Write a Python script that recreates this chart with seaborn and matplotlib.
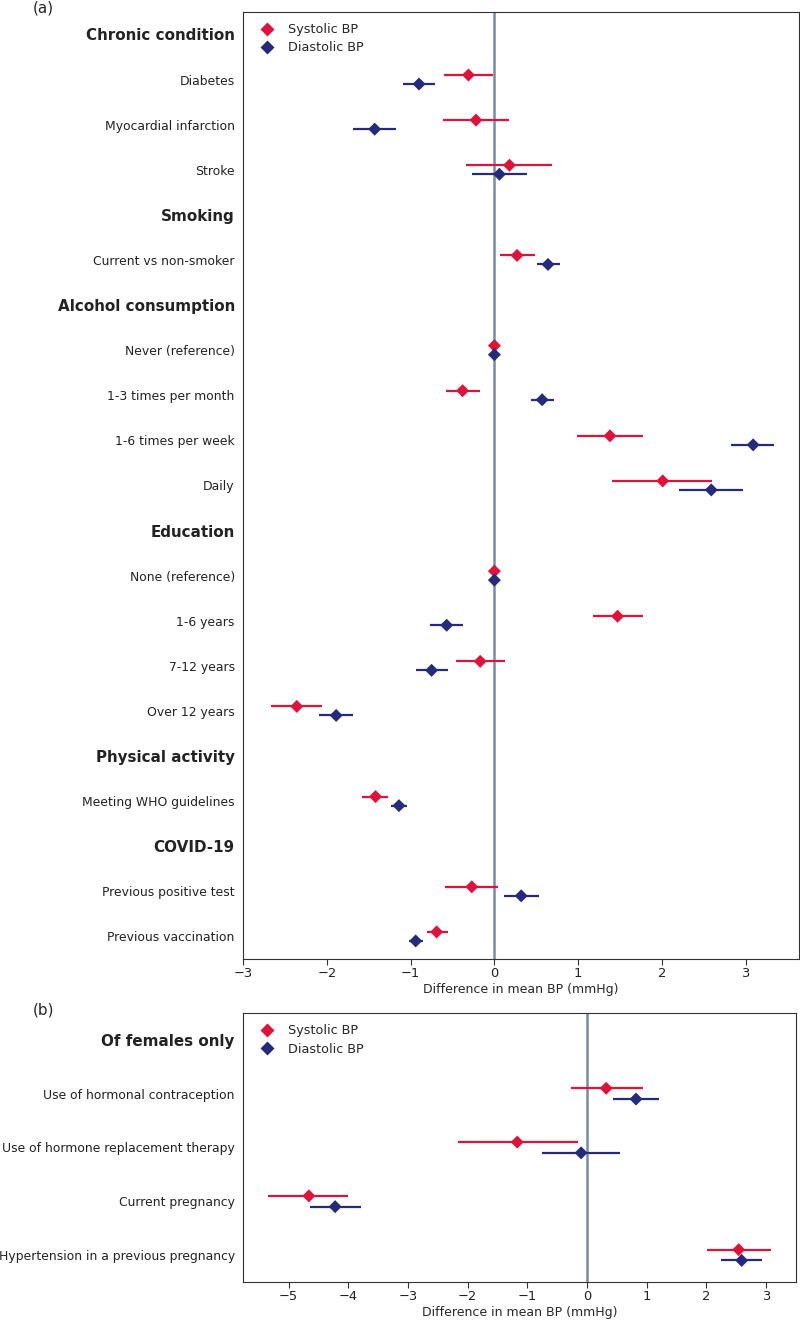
import numpy as np
import pandas as pd
import matplotlib
matplotlib.use("Agg")
import matplotlib.pyplot as plt
import seaborn as sns

# -----------------------------
# Panel (a) data
# -----------------------------
labels_a = ["Chronic condition", "Diabetes", "Myocardial infarction", "Stroke",
            "Smoking", "Current vs non-smoker",
            "Alcohol consumption", "Never (reference)", "1-3 times per month",
            "1-6 times per week", "Daily",
            "Education", "None (reference)", "1-6 years", "7-12 years", "Over 12 years",
            "Physical activity", "Meeting WHO guidelines",
            "COVID-19", "Previous positive test", "Previous vaccination"]
headers_a = ["Chronic condition", "Smoking", "Alcohol consumption", "Education",
             "Physical activity", "COVID-19"]
nan = np.nan
sys_a = [nan, -0.31, -0.22, 0.18, nan, 0.27, nan, 0.0, -0.38, 1.38, 2.01,
         nan, 0.0, 1.47, -0.17, -2.36, nan, -1.42, nan, -0.27, -0.69]
sys_lo_a = [nan, -0.60, -0.61, -0.34, nan, 0.07, nan, 0.0, -0.58, 0.99, 1.41,
            nan, 0.0, 1.18, -0.46, -2.67, nan, -1.58, nan, -0.59, -0.81]
sys_hi_a = [nan, -0.02, 0.18, 0.69, nan, 0.48, nan, 0.0, -0.17, 1.77, 2.60,
            nan, 0.0, 1.78, 0.13, -2.06, nan, -1.27, nan, 0.04, -0.56]
dia_a = [nan, -0.90, -1.43, 0.06, nan, 0.64, nan, 0.0, 0.57, 3.09, 2.59,
         nan, 0.0, -0.57, -0.75, -1.89, nan, -1.14, nan, 0.32, -0.94]
dia_lo_a = [nan, -1.09, -1.69, -0.27, nan, 0.51, nan, 0.0, 0.44, 2.83, 2.20,
            nan, 0.0, -0.77, -0.94, -2.09, nan, -1.24, nan, 0.11, -1.02]
dia_hi_a = [nan, -0.71, -1.17, 0.39, nan, 0.78, nan, 0.0, 0.71, 3.34, 2.97,
            nan, 0.0, -0.38, -0.56, -1.69, nan, -1.04, nan, 0.53, -0.85]

# -----------------------------
# Panel (b) data
# -----------------------------
labels_b = ["Of females only", "Use of hormonal contraception",
            "Use of hormone replacement therapy", "Current pregnancy",
            "Hypertension in a previous pregnancy"]
headers_b = ["Of females only"]
sys_b = [nan, 0.32, -1.17, -4.66, 2.54]
sys_lo_b = [nan, -0.27, -2.17, -5.34, 2.01]
sys_hi_b = [nan, 0.93, -0.15, -4.01, 3.08]
dia_b = [nan, 0.82, -0.10, -4.22, 2.59]
dia_lo_b = [nan, 0.44, -0.75, -4.64, 2.24]
dia_hi_b = [nan, 1.20, 0.56, -3.78, 2.93]

measures = ["Systolic BP", "Diastolic BP"]
colors = {"Systolic BP": "#dc143c", "Diastolic BP": "#262a7a"}

sns.set_style("white")
plt.rcParams['font.family'] = ['DejaVu Sans']
plt.rcParams['axes.edgecolor'] = '#333333'
plt.rcParams['xtick.color'] = '#333333'
plt.rcParams['xtick.labelcolor'] = '#222222'
plt.rcParams['ytick.labelcolor'] = '#222222'


def build_frame(labels, s, slo, shi, d, dlo, dhi):
    rows = np.arange(len(labels))
    parts = []
    for name, m, lo, hi, off in [("Systolic BP", s, slo, shi, -0.1),
                                 ("Diastolic BP", d, dlo, dhi, 0.1)]:
        parts.append(pd.DataFrame({"label": labels, "y": rows + off,
                                   "est": m, "lo": lo, "hi": hi, "measure": name}))
    return pd.concat(parts).dropna()


def draw_panel(ax, labels, headers, df, xlim, xticks):
    ax.axvline(0, color="#7a8ba0", lw=1.8, zorder=1)
    for name in measures:
        sub = df[df["measure"] == name]
        ax.hlines(sub["y"], sub["lo"], sub["hi"], color=colors[name], lw=1.6, zorder=2)
    sns.scatterplot(data=df, x="est", y="y", hue="measure", hue_order=measures,
                    palette=colors, marker="D", s=44, edgecolor="none",
                    ax=ax, zorder=3, legend=True)
    ax.set_ylim(len(labels) - 0.5, -0.5)
    ax.set_xlim(*xlim)
    ax.set_xticks(xticks)
    ax.set_xticklabels([f"{t}".replace("-", "\u2212") for t in xticks], fontsize=9.4)
    ax.set_yticks(np.arange(len(labels)))
    ax.set_yticklabels(labels)
    for t in ax.get_yticklabels():
        if t.get_text() in headers:
            t.set_fontweight("bold")
            t.set_fontsize(10.9)
        else:
            t.set_fontsize(8.9)
    ax.tick_params(axis="y", length=0, pad=6)
    ax.tick_params(axis="x", length=4, width=0.8, pad=2, bottom=True)
    ax.set_ylabel("")
    ax.set_xlabel("Difference in mean BP (mmHg)", fontsize=9.0, labelpad=2)
    handles, lbls = ax.get_legend_handles_labels()
    ax.legend(handles, lbls, loc="upper left", frameon=False, fontsize=9.2,
              handletextpad=0.6, borderaxespad=0.5, labelspacing=0.4,
              markerscale=1.1)


fig = plt.figure(figsize=(8, 13.2), dpi=100)
ax_a = fig.add_axes([0.304, 0.2735, 0.695, 0.7175])
ax_b = fig.add_axes([0.304, 0.0288, 0.691, 0.2038])

df_a = build_frame(labels_a, sys_a, sys_lo_a, sys_hi_a, dia_a, dia_lo_a, dia_hi_a)
df_b = build_frame(labels_b, sys_b, sys_lo_b, sys_hi_b, dia_b, dia_lo_b, dia_hi_b)

draw_panel(ax_a, labels_a, headers_a, df_a, (-3.0, 3.64), [-3, -2, -1, 0, 1, 2, 3])
draw_panel(ax_b, labels_b, headers_b, df_b, (-5.76, 3.50), [-5, -4, -3, -2, -1, 0, 1, 2, 3])

fig.text(33 / 800, 1 - 8 / 1320, "(a)", fontsize=11, va="center", ha="left")
fig.text(33 / 800, 1 - 1010 / 1320, "(b)", fontsize=11, va="center", ha="left")

fig.savefig("out.png", dpi=100)
